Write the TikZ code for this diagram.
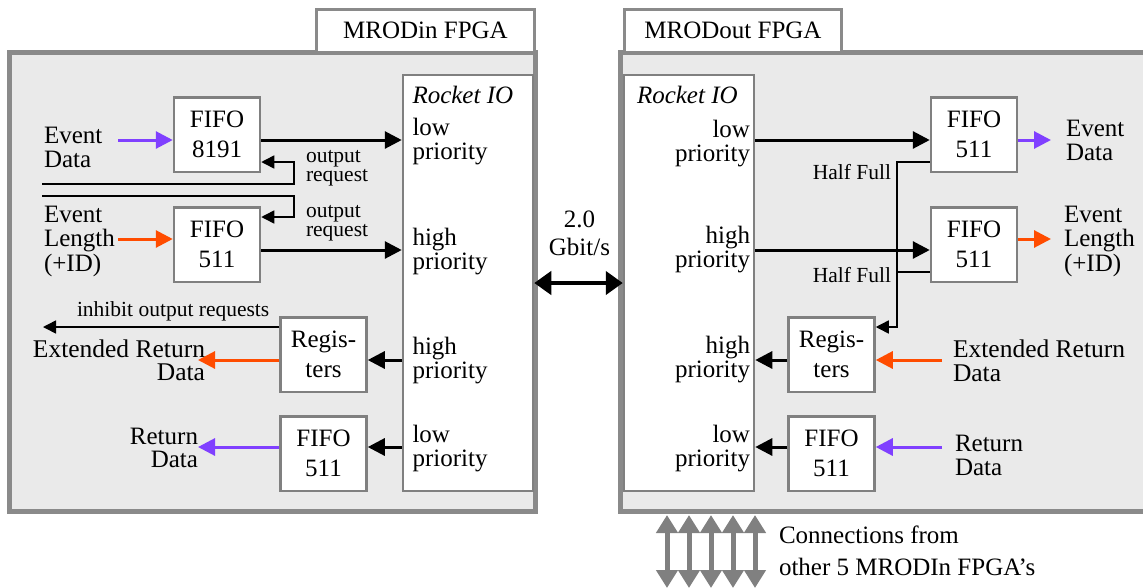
\documentclass[tikz,border=0pt]{standalone}
\usepackage{fontspec}
\setmainfont{Liberation Serif}
\usetikzlibrary{arrows.meta}
\definecolor{panelgray}{RGB}{234,234,234}
\definecolor{bordergray}{RGB}{138,138,138}
\definecolor{boxgray}{RGB}{128,128,128}
\definecolor{vio}{RGB}{128,64,255}
\definecolor{ora}{RGB}{255,76,0}
\newcommand{\lbl}[2]{\begin{tabular}[t]{@{}#1@{}}#2\end{tabular}}
\begin{document}
\begin{tikzpicture}[x=1pt,y=-1pt,
  lab/.style={inner sep=0pt, outer sep=0pt, font=\fontsize{25}{24}\selectfont},
  sml/.style={inner sep=0pt, outer sep=0pt, font=\fontsize{21.5}{19.5}\selectfont},
  panel/.style={draw=bordergray, line width=5pt, fill=panelgray, inner sep=0pt, outer sep=0pt, minimum height=458.5pt},
  tabbox/.style={draw=bordergray, line width=3pt, fill=white, inner sep=0pt, outer sep=0pt, font=\fontsize{25}{30}\selectfont, minimum width=218pt, minimum height=42.5pt},
  rio/.style={draw=boxgray, line width=2.5pt, fill=white, inner sep=0pt, minimum width=130pt, minimum height=416pt},
  blk/.style={draw=boxgray, line width=2.5pt, fill=white, inner sep=0pt, minimum width=86pt, minimum height=74.5pt, align=center, font=\fontsize{25}{30}\selectfont},
  barr/.style={line width=3pt, -{Triangle[length=17pt,width=17pt]}},
  varr/.style={draw=vio, line width=3pt, -{Triangle[length=17pt,width=17pt]}},
  oarr/.style={draw=ora, line width=3pt, -{Triangle[length=17pt,width=17pt]}},
  tarr/.style={line width=1.5pt, -{Triangle[length=13pt,width=13pt]}},
  tline/.style={line width=1.5pt},
  darr/.style={line width=4.5pt, {Triangle[length=17pt,width=23pt]}-{Triangle[length=17pt,width=23pt]}},
  garr/.style={draw=boxgray, line width=5pt, {Triangle[length=18pt,width=21pt]}-{Triangle[length=18pt,width=21pt]}},
]
\useasboundingbox (0,0) rectangle (1143,587);

% panels and tabs
\node[panel, minimum width=526pt] (lp) at (272.5,281.75) {};
\node[panel, minimum width=540pt] (rp) at (890.5,281.75) {};
\node[tabbox] (ltab) at (425.5,30.75) {MRODin FPGA};
\node[tabbox, minimum width=217pt] (rtab) at (733,30.75) {MRODout FPGA};

% Rocket IO blocks
\node[rio] (rioL) at (468,283) {};
\node[rio] (rioR) at (689,283) {};

% boxes
\node[blk] (f8191) at (217,134.5) {FIFO\\8191};
\node[blk] (f511a) at (217,244.5) {FIFO\\511};
\node[blk] (regL) at (323.5,354.5) {Regis-\\ters};
\node[blk] (f511b) at (323.5,453.5) {FIFO\\511};
\node[blk] (f511c) at (974,134.5) {FIFO\\511};
\node[blk] (f511d) at (974,244.5) {FIFO\\511};
\node[blk] (regR) at (831.5,354.5) {Regis-\\ters};
\node[blk] (f511e) at (831.5,453.5) {FIFO\\511};

% free ends
\coordinate (evdS) at (118,140);
\coordinate (elS) at (118,239);
\coordinate (oq1) at (42,184);
\coordinate (oq2) at (42,196);
\coordinate (inhE) at (43,327);
\coordinate (erdE) at (198,360);
\coordinate (rdE) at (198,447);
\coordinate (edR) at (1051,140);
\coordinate (elR) at (1051,239);
\coordinate (hfx) at (897,0);
\coordinate (erS) at (942,360);
\coordinate (rdS) at (942,447);

% left connectors
\draw[varr] (evdS) -- (evdS -| f8191.west);
\draw[barr] (f8191.east |- 0,140) -- (rioL.west |- 0,140);
\draw[tarr] (oq1) -- ++(252,0) |- (f8191.east |- 0,162);
\draw[tarr] (oq2) -- ++(252,0) |- (f511a.east |- 0,217);
\draw[oarr] (elS) -- (elS -| f511a.west);
\draw[barr] (f511a.east |- 0,250) -- (rioL.west |- 0,250);
\draw[tarr] (regL.west |- 0,327) -- (inhE);
\draw[oarr] (regL.west |- 0,360) -- (erdE);
\draw[barr] (rioL.west |- 0,360) -- (regL.east |- 0,360);
\draw[varr] (f511b.west |- 0,447) -- (rdE);
\draw[barr] (rioL.west |- 0,447) -- (f511b.east |- 0,447);

% link
\draw[darr] (rioL.east |- 0,283) -- (rioR.west |- 0,283);

% right connectors
\draw[barr] (rioR.east |- 0,140) -- (f511c.west |- 0,140);
\draw[barr] (rioR.east |- 0,250) -- (f511d.west |- 0,250);
\draw[varr] (f511c.east |- 0,140) -- (edR);
\draw[oarr] (f511d.east |- 0,239) -- (elR);
\draw[tarr] (f511c.west |- 0,162) -- (hfx |- 0,162) |- (regR.east |- 0,327);
\draw[tline] (f511d.west |- 0,272) -- (hfx |- 0,272);
\draw[barr] (regR.west |- 0,360) -- (rioR.east |- 0,360);
\draw[oarr] (erS) -- (erS -| regR.east);
\draw[barr] (f511e.west |- 0,447) -- (rioR.east |- 0,447);
\draw[varr] (rdS) -- (rdS -| f511e.east);

% connections from other FPGAs
\foreach \x [count=\i] in {667,689,711,733,755} {
  \coordinate (ct\i) at (\x,515);
  \coordinate (cb\i) at (\x,588);
  \draw[garr] (ct\i) -- (cb\i);
}

% labels left
\node[lab, anchor=base west, font=\fontsize{25}{24}\selectfont\itshape] (rtL) at (412.5,103) {Rocket IO};
\node[lab, anchor=base west] (pL1) at (412.5,135) {\lbl{l}{low\\priority}};
\node[lab, anchor=base west] (pL2) at (412.5,245) {\lbl{l}{high\\priority}};
\node[lab, anchor=base west] (pL3) at (412.5,354) {\lbl{l}{high\\priority}};
\node[lab, anchor=base west] (pL4) at (412.5,442) {\lbl{l}{low\\priority}};
\node[lab, anchor=base west] (evdL) at (44,143) {\lbl{l}{Event\\Data}};
\node[lab, anchor=base west] (elL) at (44,222) {\lbl{l}{Event\\Length\\(+ID)}};
\node[sml, anchor=base west] (orq1) at (306,162) {\lbl{l}{output\\request}};
\node[sml, anchor=base west] (orq2) at (306,217) {\lbl{l}{output\\request}};
\node[sml, anchor=base west] (inh) at (77,316) {inhibit output requests};
\node[lab, anchor=base east, font=\fontsize{25.5}{23}\selectfont] (erdL) at (205,357) {\lbl{r}{Extended Return\\Data}};
\node[lab, anchor=base east, font=\fontsize{25}{23}\selectfont] (rdL) at (198,444) {\lbl{r}{Return\\Data}};

% middle
\node[lab, anchor=base, font=\fontsize{25}{28}\selectfont] (gb) at (579.5,227) {\lbl{c}{2.0\\Gbit/s}};

% labels right
\node[lab, anchor=base west, font=\fontsize{25}{24}\selectfont\itshape] (rtR) at (637,103) {Rocket IO};
\node[lab, anchor=base east] (pR1) at (750,137) {\lbl{r}{low\\priority}};
\node[lab, anchor=base east] (pR2) at (750,243) {\lbl{r}{high\\priority}};
\node[lab, anchor=base east] (pR3) at (750,353) {\lbl{r}{high\\priority}};
\node[lab, anchor=base east] (pR4) at (750,442) {\lbl{r}{low\\priority}};
\node[lab, anchor=base west] (evdR) at (1066,136) {\lbl{l}{Event\\Data}};
\node[lab, anchor=base west] (elRt) at (1064,222) {\lbl{l}{Event\\Length\\(+ID)}};
\node[sml, anchor=base east] (hf1) at (891,179) {Half Full};
\node[sml, anchor=base east] (hf2) at (891,282) {Half Full};
\node[lab, anchor=base west, font=\fontsize{25.5}{24}\selectfont] (erdR) at (953,357) {\lbl{l}{Extended Return\\Data}};
\node[lab, anchor=base west] (rdR) at (955,451) {\lbl{l}{Return\\Data}};
\node[lab, anchor=base west, font=\fontsize{25}{32}\selectfont] (conn) at (779,543) {\lbl{l}{Connections from\\other 5 MRODIn FPGA’s}};
\end{tikzpicture}
\end{document}
